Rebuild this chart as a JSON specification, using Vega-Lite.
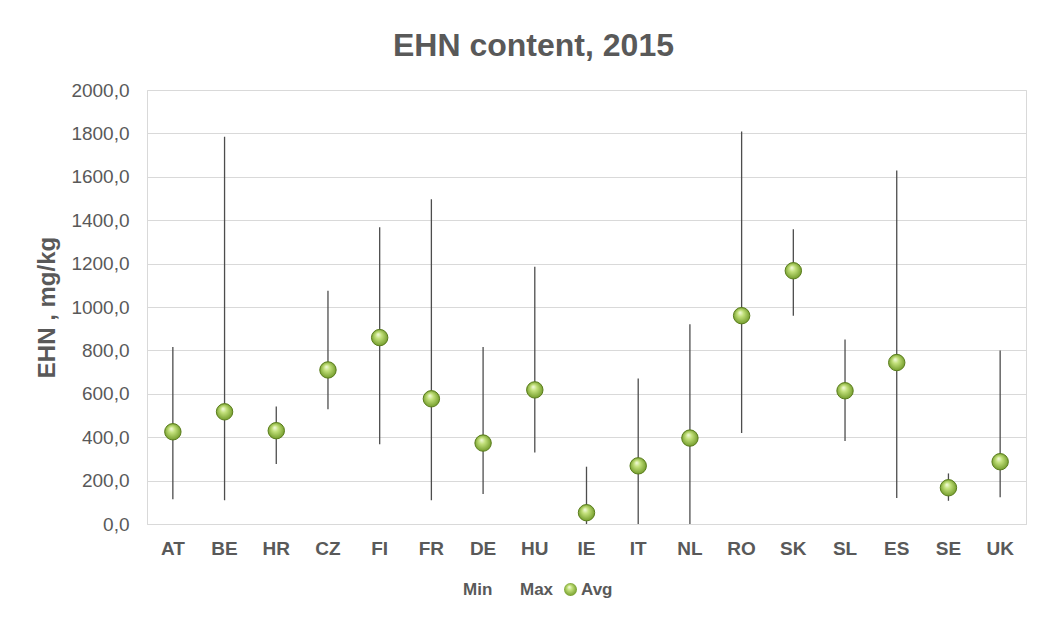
{
  "$schema": "https://vega.github.io/schema/vega-lite/v6.json",
  "width": 879,
  "height": 434,
  "autosize": "none",
  "padding": {"left": 147, "top": 90, "right": 17, "bottom": 94},
  "background": "#ffffff",
  "title": {
    "text": "EHN content, 2015",
    "font": "Liberation Sans",
    "fontSize": 32,
    "fontWeight": "bold",
    "color": "#595959",
    "anchor": "middle",
    "dx": -53,
    "offset": 18
  },
  "config": {
    "font": "Liberation Sans",
    "view": {"stroke": "#d9d9d9", "strokeWidth": 1}
  },
  "data": {
    "values": [
      {"country": "AT", "min": 114, "max": 816, "avg": 425, "series": "Avg"},
      {"country": "BE", "min": 109, "max": 1784, "avg": 517, "series": "Avg"},
      {"country": "HR", "min": 276, "max": 541, "avg": 430, "series": "Avg"},
      {"country": "CZ", "min": 529, "max": 1075, "avg": 710, "series": "Avg"},
      {"country": "FI", "min": 368, "max": 1367, "avg": 859, "series": "Avg"},
      {"country": "FR", "min": 109, "max": 1496, "avg": 577, "series": "Avg"},
      {"country": "DE", "min": 138, "max": 816, "avg": 373, "series": "Avg"},
      {"country": "HU", "min": 330, "max": 1186, "avg": 618, "series": "Avg"},
      {"country": "IE", "min": 0, "max": 264, "avg": 52, "series": "Avg"},
      {"country": "IT", "min": 0, "max": 670, "avg": 268, "series": "Avg"},
      {"country": "NL", "min": 0, "max": 920, "avg": 396, "series": "Avg"},
      {"country": "RO", "min": 419, "max": 1809, "avg": 960, "series": "Avg"},
      {"country": "SK", "min": 960, "max": 1358, "avg": 1167, "series": "Avg"},
      {"country": "SL", "min": 382, "max": 850, "avg": 614, "series": "Avg"},
      {"country": "ES", "min": 120, "max": 1629, "avg": 744, "series": "Avg"},
      {"country": "SE", "min": 107, "max": 233, "avg": 167, "series": "Avg"},
      {"country": "UK", "min": 123, "max": 799, "avg": 287, "series": "Avg"}
    ]
  },
  "encoding": {
    "x": {
      "field": "country",
      "type": "nominal",
      "sort": null,
      "scale": {"type": "band", "paddingInner": 0, "paddingOuter": 0},
      "axis": {
        "title": null,
        "labelAngle": 0,
        "labelFont": "Liberation Sans",
        "labelFontSize": 19,
        "labelFontWeight": "bold",
        "labelColor": "#595959",
        "labelPadding": 15,
        "ticks": false,
        "domain": true,
        "domainColor": "#d9d9d9",
        "grid": false
      }
    }
  },
  "layer": [
    {
      "mark": {"type": "rule", "color": "#4d4d4d", "strokeWidth": 1.3},
      "encoding": {
        "y": {
          "field": "min",
          "type": "quantitative",
          "scale": {"domain": [0, 2000], "nice": false},
          "axis": {
            "title": "EHN , mg/kg",
            "titleFont": "Liberation Sans",
            "titleFontSize": 24,
            "titleFontWeight": "bold",
            "titleColor": "#595959",
            "titlePadding": 11,
            "values": [0, 200, 400, 600, 800, 1000, 1200, 1400, 1600, 1800, 2000],
            "labelExpr": "replace(format(datum.value, '.1f'), '.', ',')",
            "labelFont": "Liberation Sans",
            "labelFontSize": 19,
            "labelColor": "#595959",
            "labelPadding": 18,
            "ticks": false,
            "domain": false,
            "grid": true,
            "gridColor": "#d9d9d9",
            "gridWidth": 1
          }
        },
        "y2": {"field": "max"}
      }
    },
    {
      "mark": {
        "type": "point",
        "filled": true,
        "opacity": 1,
        "size": 270,
        "fill": {
          "gradient": "radial",
          "x1": 0.4, "y1": 0.3, "r1": 0,
          "x2": 0.5, "y2": 0.5, "r2": 0.55,
          "stops": [
            {"offset": 0, "color": "#f6fce4"},
            {"offset": 0.35, "color": "#c2e07a"},
            {"offset": 1, "color": "#6c9624"}
          ]
        },
        "stroke": "#5a7d1c",
        "strokeWidth": 1
      },
      "encoding": {
        "y": {"field": "avg", "type": "quantitative"},
        "shape": {
          "field": "series",
          "type": "nominal",
          "scale": {"domain": ["Min", "Max", "Avg"], "range": ["circle", "circle", "circle"]},
          "legend": {
            "title": null,
            "orient": "none",
            "legendX": 297,
            "legendY": 491,
            "direction": "horizontal",
            "symbolSize": 169,
            "symbolStrokeColor": "#5a7d1c",
            "symbolStrokeWidth": 1,
            "symbolOpacity": {"expr": "datum.value === 'Avg' ? 1 : 0"},
            "labelFont": "Liberation Sans",
            "labelFontSize": 17,
            "labelFontWeight": "bold",
            "labelColor": "#595959",
            "labelOffset": 2,
            "columnPadding": 8,
            "encode": {
              "symbols": {
                "update": {
                  "fill": {"value": {
                    "gradient": "radial",
                    "x1": 0.4, "y1": 0.3, "r1": 0,
                    "x2": 0.5, "y2": 0.5, "r2": 0.55,
                    "stops": [
                      {"offset": 0, "color": "#f6fce4"},
                      {"offset": 0.35, "color": "#c2e07a"},
                      {"offset": 1, "color": "#6c9624"}
                    ]
                  }}
                }
              }
            }
          }
        }
      }
    }
  ]
}
